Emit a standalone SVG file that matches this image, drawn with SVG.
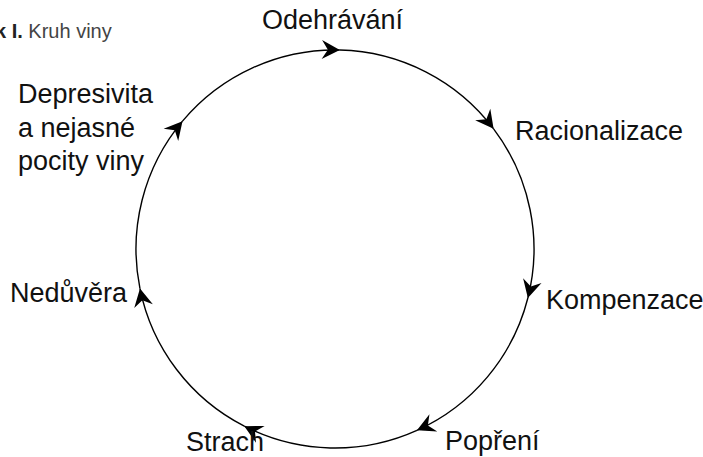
<svg xmlns="http://www.w3.org/2000/svg" width="703" height="457" viewBox="0 0 703 457">
<style>
.lbl{font-family:"Liberation Sans",Arial,sans-serif;font-size:27px;fill:#111}
.cap{font-family:"Liberation Sans",Arial,sans-serif;font-size:20px;fill:#444}
.arc{fill:none;stroke:#000;stroke-width:1.4;marker-end:url(#ah)}
</style>
<defs>
<marker id="ah" markerUnits="userSpaceOnUse" markerWidth="24" markerHeight="24" viewBox="-20 -12 24 24" refX="0" refY="0" orient="auto">
<path d="M0,0 L-18,-9.5 L-12,0 L-18,9.5 Z" fill="#000"/>
</marker>
</defs>
<rect width="703" height="457" fill="#fff"/>
<g id="caption"><text class="cap" x="-5" y="38"><tspan font-weight="bold" fill="#222">k I.</tspan> Kruh viny</text></g>
<g id="connectors">
<path class="arc" d="M339.86,50.06 A199,199 0 0 1 493.60,128.81"/>
<path class="arc" d="M493.60,128.81 A199,199 0 0 1 527.87,298.01"/>
<path class="arc" d="M527.87,298.01 A199,199 0 0 1 416.95,430.34"/>
<path class="arc" d="M416.95,430.34 A199,199 0 0 1 244.30,426.13"/>
<path class="arc" d="M244.30,426.13 A199,199 0 0 1 139.97,288.54"/>
<path class="arc" d="M139.97,288.54 A199,199 0 0 1 182.50,121.15"/>
<path class="arc" d="M182.50,121.15 A199,199 0 0 1 339.86,50.06"/>
</g>
<g id="odehravani"><text class="lbl" x="262" y="29">Odehrávání</text></g>
<g id="racionalizace"><text class="lbl" x="515" y="140">Racionalizace</text></g>
<g id="kompenzace"><text class="lbl" x="546" y="309">Kompenzace</text></g>
<g id="popreni"><text class="lbl" x="445" y="450">Popření</text></g>
<g id="strach"><text class="lbl" x="186" y="451">Strach</text></g>
<g id="neduvera"><text class="lbl" x="10" y="302">Nedůvěra</text></g>
<g id="depresivita"><text class="lbl" x="18" y="103">Depresivita</text><text class="lbl" x="18" y="137">a nejasné</text><text class="lbl" x="18" y="170">pocity viny</text></g>
</svg>
